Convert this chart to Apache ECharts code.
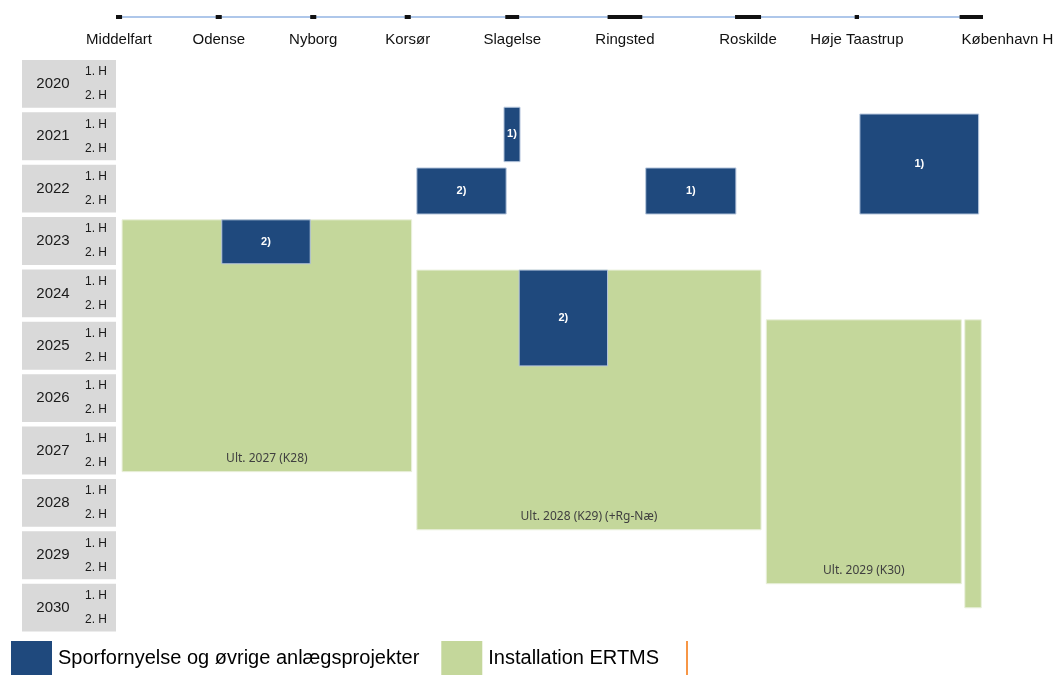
<!DOCTYPE html>
<html>
<head>
<meta charset="utf-8">
<script src="https://cdn.jsdelivr.net/npm/echarts@6/dist/echarts.min.js"></script>
<style>
  html, body { margin: 0; padding: 0; background: #fff; }
  #chart { width: 1055px; height: 675px; }
</style>
</head>
<body>
<div id="chart"></div>
<script>
// stations along the line, position in % of route (Middelfart = 0, København H = 100)
const stations = ['Middelfart', 'Odense', 'Nyborg', 'Korsør', 'Slagelse', 'Ringsted', 'Roskilde', 'Høje Taastrup', 'København H'];
const stationFrom = [0, 11.5, 22.4, 33.3, 44.9, 56.7, 71.4, 85.2, 97.3];
const stationTo = [0.7, 12.2, 23.1, 34.0, 46.5, 60.7, 74.4, 85.7, 100];

const years = [2020, 2021, 2022, 2023, 2024, 2025, 2026, 2027, 2028, 2029, 2030];
const halves = ['1. H', '2. H'];

// Sporfornyelse og øvrige anlægsprojekter
const sporFrom = [44.75, 34.7, 12.2, 46.5, 61.1, 85.8];
const sporTo = [46.6, 45.0, 22.4, 56.7, 71.5, 99.5];
const sporStart = [2020.94, 2022.1, 2023.09, 2024.05, 2022.1, 2021.07];
const sporEnd = [2021.98, 2022.98, 2023.93, 2025.88, 2022.98, 2022.98];
const sporNote = ['1)', '2)', '2)', '2)', '1)', '1)'];

// Installation ERTMS
const ertmsFrom = [0.7, 34.7, 75.0, 97.9];
const ertmsTo = [34.1, 74.4, 97.5, 99.8];
const ertmsStart = [2023.09, 2024.05, 2025.0, 2025.0];
const ertmsEnd = [2027.9, 2029.01, 2030.04, 2030.5];
const ertmsNote = ['Ult. 2027 (K28)', 'Ult. 2028 (K29) (+Rg-Næ)', 'Ult. 2029 (K30)', ''];

const SPOR = 'Sporfornyelse og øvrige anlægsprojekter';
const ERTMS = 'Installation ERTMS';
const FONT = '"Liberation Sans", Arial, sans-serif';

const chart = echarts.init(document.getElementById('chart'));

function blockRenderer(notes, fill, stroke, textStyle, atBottom) {
  return function (params, api) {
    const p0 = api.coord([api.value(0), api.value(2)]);
    const p1 = api.coord([api.value(1), api.value(3)]);
    const x = p0[0], y = p0[1], w = p1[0] - p0[0], h = p1[1] - p0[1];
    const note = notes[params.dataIndex];
    const children = [{
      type: 'rect',
      shape: { x: x, y: y, width: w, height: h },
      style: { fill: fill, stroke: stroke, lineWidth: 1 }
    }];
    if (note) {
      children.push({
        type: 'text',
        style: Object.assign({
          text: note,
          x: x + w / 2,
          y: atBottom ? y + h - 13 : y + h / 2,
          align: 'center',
          verticalAlign: 'middle'
        }, textStyle)
      });
    }
    return { type: 'group', children: children };
  };
}

const option = {
  animation: false,
  backgroundColor: '#fff',
  grid: [
    { left: 22, top: 58, width: 94, height: 576 },
    { left: 116, top: 58, width: 867, height: 576 },
    { left: 116, top: 15, width: 867, height: 4 }
  ],
  xAxis: [
    { gridIndex: 0, type: 'value', min: 0, max: 1, show: false },
    { gridIndex: 1, type: 'value', min: 0, max: 100, show: false },
    { gridIndex: 2, type: 'value', min: 0, max: 100, show: false }
  ],
  yAxis: [
    { gridIndex: 0, type: 'value', min: 2020, max: 2031, inverse: true, show: false },
    { gridIndex: 1, type: 'value', min: 2020, max: 2031, inverse: true, show: false },
    { gridIndex: 2, type: 'value', min: 0, max: 1, show: false }
  ],
  legend: {
    left: 11,
    top: 641,
    padding: 0,
    itemWidth: 41,
    itemHeight: 34,
    itemGap: 22,
    icon: 'rect',
    data: [SPOR, ERTMS],
    textStyle: { fontSize: 20, color: '#000', fontFamily: FONT, padding: [0, 0, 0, 1] }
  },
  graphic: [{
    type: 'line',
    shape: { x1: 687, y1: 641, x2: 687, y2: 675 },
    style: { stroke: '#F79646', lineWidth: 2 }
  }],
  series: [
    {
      // year / half-year column
      type: 'custom',
      xAxisIndex: 0,
      yAxisIndex: 0,
      silent: true,
      data: years.map(y => [y]),
      encode: { y: 0 },
      renderItem: function (params, api) {
        const yr = api.value(0);
        const top = api.coord([0, yr])[1] + 2;
        const bottom = api.coord([0, yr + 1])[1] - 2.5;
        const left = api.coord([0, yr])[0];
        const right = api.coord([1, yr])[0];
        return {
          type: 'group',
          children: [
            { type: 'rect', shape: { x: left, y: top, width: right - left, height: bottom - top }, style: { fill: '#D9D9D9' } },
            { type: 'text', style: { text: String(yr), x: left + 31, y: (top + bottom) / 2, align: 'center', verticalAlign: 'middle', fontSize: 15, fill: '#1a1a1a', fontFamily: FONT } },
            { type: 'text', style: { text: halves[0], x: left + 74, y: top + 12, align: 'center', verticalAlign: 'middle', fontSize: 12, fill: '#1a1a1a', fontFamily: FONT } },
            { type: 'text', style: { text: halves[1], x: left + 74, y: top + 36, align: 'center', verticalAlign: 'middle', fontSize: 12, fill: '#1a1a1a', fontFamily: FONT } }
          ]
        };
      }
    },
    {
      // route line
      type: 'custom',
      xAxisIndex: 2,
      yAxisIndex: 2,
      silent: true,
      data: [[stationFrom[0], stationTo[stationTo.length - 1]]],
      encode: { x: [0, 1] },
      renderItem: function (params, api) {
        const a = api.coord([api.value(0), 0.5]);
        const b = api.coord([api.value(1), 0.5]);
        return { type: 'line', shape: { x1: a[0], y1: a[1], x2: b[0], y2: b[1] }, style: { stroke: '#5F8FD6', lineWidth: 1.2 } };
      }
    },
    {
      // stations
      type: 'custom',
      xAxisIndex: 2,
      yAxisIndex: 2,
      silent: true,
      z: 3,
      data: stations.map((s, i) => [stationFrom[i], stationTo[i]]),
      encode: { x: [0, 1] },
      renderItem: function (params, api) {
        const a = api.coord([api.value(0), 1]);
        const b = api.coord([api.value(1), 0]);
        const last = params.dataIndex === stations.length - 1;
        return {
          type: 'group',
          children: [
            { type: 'rect', shape: { x: a[0], y: a[1], width: b[0] - a[0], height: b[1] - a[1] }, style: { fill: '#111' } },
            {
              type: 'text',
              style: {
                text: stations[params.dataIndex],
                x: last ? a[0] + 2 : (a[0] + b[0]) / 2,
                y: b[1] + 21,
                align: last ? 'left' : 'center',
                verticalAlign: 'middle',
                fontSize: 15,
                fill: '#111',
                fontFamily: FONT
              }
            }
          ]
        };
      }
    },
    {
      name: ERTMS,
      type: 'custom',
      xAxisIndex: 1,
      yAxisIndex: 1,
      itemStyle: { color: '#C4D79B' },
      data: ertmsFrom.map((f, i) => [f, ertmsTo[i], ertmsStart[i], ertmsEnd[i]]),
      encode: { x: [0, 1], y: [2, 3] },
      renderItem: blockRenderer(ertmsNote, '#C4D79B', '#EAF0DC',
        { fontSize: 12, fill: '#404040', fontFamily: '"Noto Sans", sans-serif' }, true)
    },
    {
      name: SPOR,
      type: 'custom',
      xAxisIndex: 1,
      yAxisIndex: 1,
      z: 3,
      itemStyle: { color: '#1F497D' },
      data: sporFrom.map((f, i) => [f, sporTo[i], sporStart[i], sporEnd[i]]),
      encode: { x: [0, 1], y: [2, 3] },
      renderItem: blockRenderer(sporNote, '#1F497D', '#B8C8DE',
        { fontSize: 11, fontWeight: 'bold', fill: '#fff', fontFamily: FONT }, false)
    }
  ]
};

chart.setOption(option);
</script>
</body>
</html>
